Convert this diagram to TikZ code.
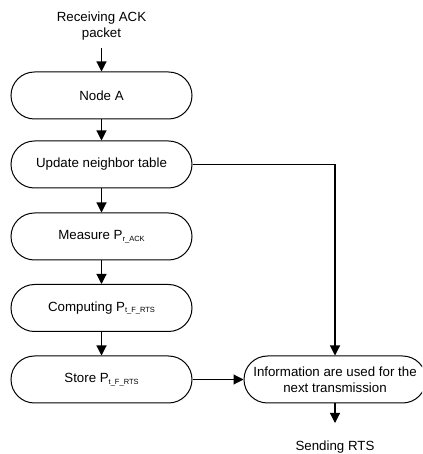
\documentclass[tikz,border=0pt]{standalone}
\usepackage{fontspec}
\setmainfont{Liberation Sans}
\usetikzlibrary{arrows.meta}
\newcommand{\subtxt}[1]{\raisebox{-1.8pt}{\fontsize{7.5}{8}\selectfont #1}}
\begin{document}
\begin{tikzpicture}[x=1pt,y=1pt,
  every node/.style={font=\fontsize{13.3}{16.5}\selectfont},
  stadium/.style={draw,line width=1pt,rounded corners=23.5pt,minimum width=181pt,minimum height=47pt,inner sep=0pt,align=center},
  plain/.style={align=center,inner sep=0pt},
  conn/.style={line width=1.1pt,-{Triangle[width=10pt,length=10pt]}}]
\clip (0,0) rectangle (422,454);
\fill[white] (0,0) rectangle (422,454);
\node[plain] (rx) at (101.5,428) {Receiving ACK\\packet};
\node[stadium] (a) at (101.5,358.5) {Node A};
\node[stadium] (upd) at (101.5,289.5) {Update neighbor table};
\node[stadium] (meas) at (101.5,217.5) {Measure P\subtxt{r\_ACK}};
\node[stadium] (comp) at (101.5,146) {Computing P\subtxt{t\_F\_RTS}};
\node[stadium] (store) at (101.5,74.5) {Store P\subtxt{t\_F\_RTS}};
\node[stadium,minimum width=182pt] (info) at (335,74.5) {Information are used for the\\next transmission};
\node[plain] (rts) at (335,6.5) {Sending RTS};
\coordinate (rxend) at (101.5,406);
\coordinate (rtsend) at (335,31);
\draw[conn] (rxend) -- (a.north);
\draw[conn] (a.south) -- (upd.north);
\draw[conn] (upd.south) -- (meas.north);
\draw[conn] (meas.south) -- (comp.north);
\draw[conn] (comp.south) -- (store.north);
\draw[conn] (store.east) -- (info.west);
\draw[conn] (upd.east) -| (info.north);
\draw[conn] (info.south) -- (rtsend);
\end{tikzpicture}
\end{document}
